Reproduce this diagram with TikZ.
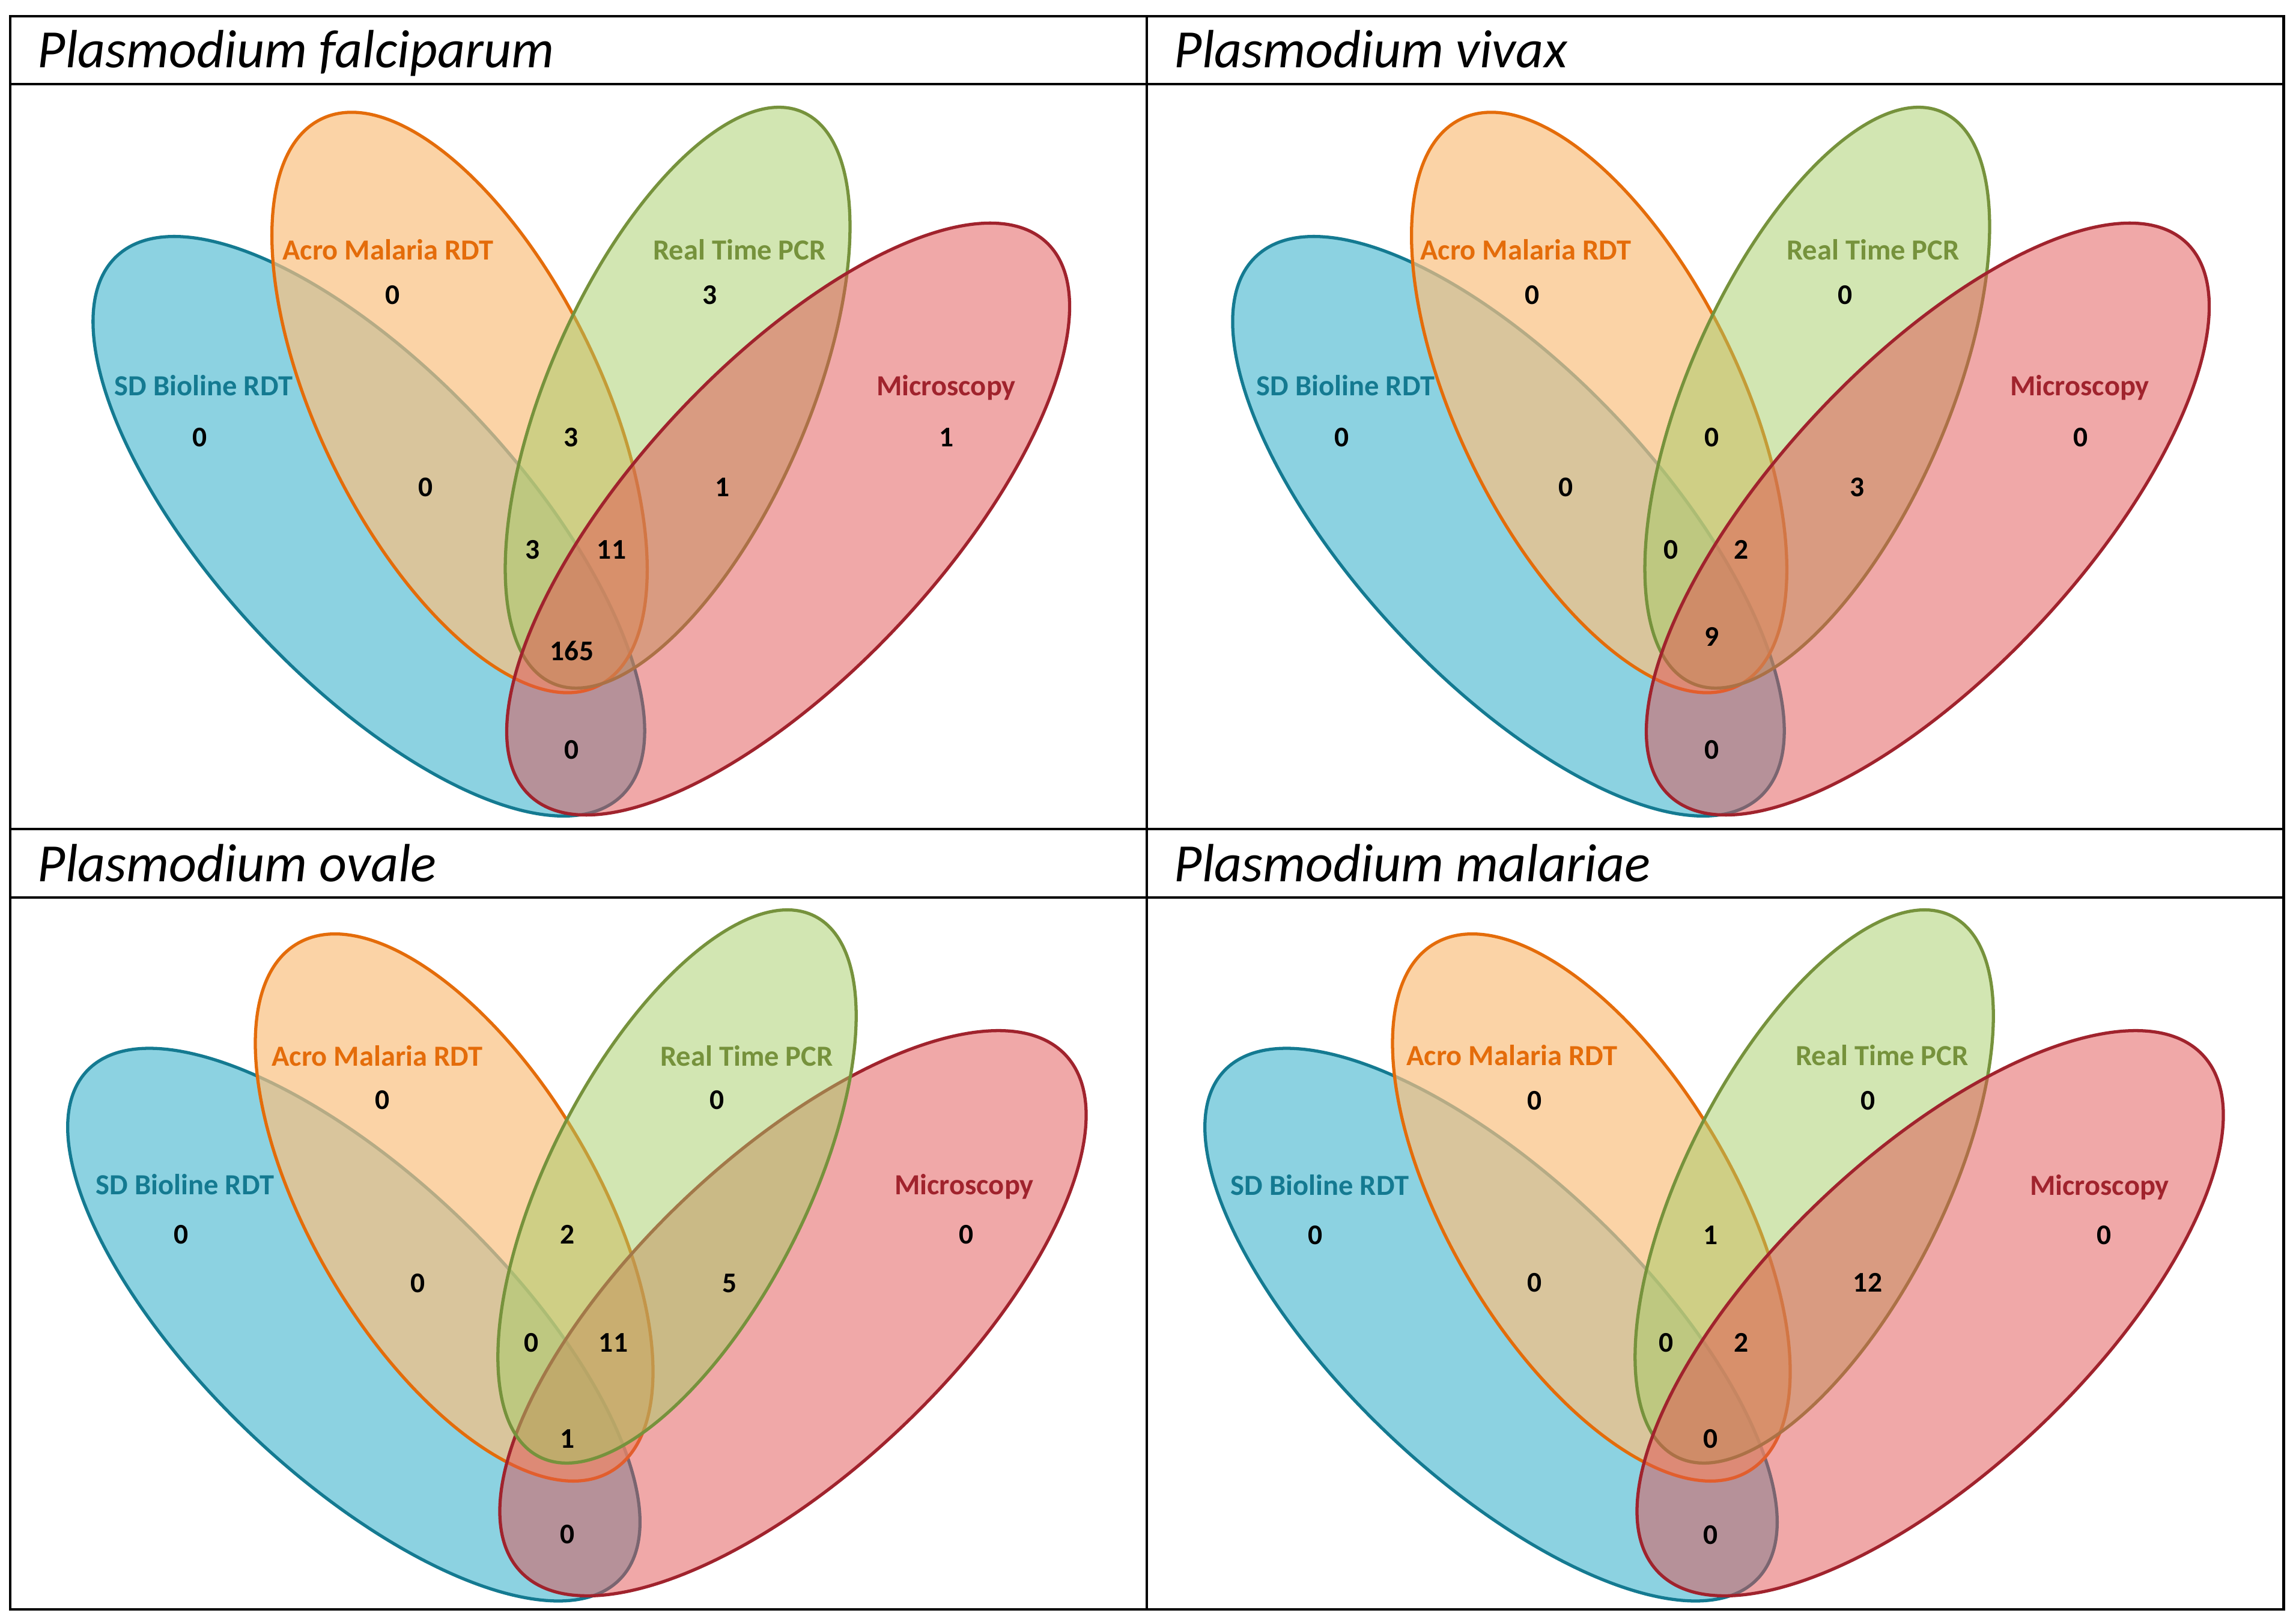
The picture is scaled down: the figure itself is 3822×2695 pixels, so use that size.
\documentclass[tikz,border=0pt]{standalone}
\usepackage{fontspec}
\setmainfont{Carlito}
\usepackage{tikz}
\usetikzlibrary{positioning}
\definecolor{sdline}{RGB}{20,122,145}
\definecolor{sdfill}{RGB}{25,165,195}
\definecolor{acroline}{RGB}{228,108,10}
\definecolor{acrofill}{RGB}{250,192,128}
\definecolor{pcrline}{RGB}{118,146,60}
\definecolor{pcrfill}{RGB}{165,205,101}
\definecolor{microline}{RGB}{160,35,45}
\definecolor{microfill}{RGB}{225,81,81}

\begin{document}
\begin{tikzpicture}[
  x=0.01cm, y=-0.01cm,
  frame/.style={draw=black, line width=1.4pt},
  header/.style={font=\fontsize{25.5}{30}\selectfont\itshape, inner sep=0pt, anchor=base west},
  setname/.style={font=\fontsize{13.8}{16}\selectfont\bfseries, inner sep=0pt, text depth=0pt},
  num/.style={font=\fontsize{13.5}{16}\selectfont\bfseries, inner sep=0pt},
  venn/.style={line width=1.5pt, fill opacity=0.5},
  sdset/.style={venn, draw=sdline, fill=sdfill},
  acroset/.style={venn, draw=acroline, fill=acrofill, fill opacity=0.7},
  pcrset/.style={venn, draw=pcrline, fill=pcrfill},
  microset/.style={venn, draw=microline, fill=microfill}
]
\useasboundingbox (0,0) rectangle (3822,2695);

% Plasmodium falciparum
\path[sdset, rotate around={-47:(614,876)}] (614,876) ellipse [x radius=615, y radius=255];
\path[acroset, rotate around={-64:(765,670)}] (765,670) ellipse [x radius=525, y radius=235];
\path[pcrset, rotate around={66.4:(1128,662)}] (1128,662) ellipse [x radius=519, y radius=216];
\path[microset, rotate around={47:(1312,864)}] (1312,864) ellipse [x radius=630, y radius=255];

\node[setname, text=acroline] (fa-acro) at (646,415) {Acro Malaria RDT};
\node[setname, text=pcrline] (fa-pcr) at (1231,415) {Real Time PCR};
\node[setname, text=sdline] (fa-sd) at (339,641) {SD Bioline RDT};
\node[setname, text=microline] (fa-mic) at (1575,641) {Microscopy};

\node[num] (fa-n-acro) at (654,491) {0};
\node[num] (fa-n-pcr) at (1182,491) {3};
\node[num] (fa-n-sd) at (333,728) {0};
\node[num] (fa-n-mic) at (1576,728) {1};
\node[num] (fa-n-ap) at (951,728) {3};
\node[num] (fa-n-sa) at (709,811) {0};
\node[num] (fa-n-pm) at (1203,811) {1};
\node[num] (fa-n-sap) at (887,915) {3};
\node[num] (fa-n-apm) at (1018,915) {11};
\node[num] (fa-n-all) at (952,1083) {165};
\node[num] (fa-n-sm) at (952,1248) {0};

% Plasmodium vivax
\path[sdset, rotate around={-47:(2511,876)}] (2511,876) ellipse [x radius=615, y radius=255];
\path[acroset, rotate around={-64:(2662,670)}] (2662,670) ellipse [x radius=525, y radius=235];
\path[pcrset, rotate around={66.4:(3025,662)}] (3025,662) ellipse [x radius=519, y radius=216];
\path[microset, rotate around={47:(3209,864)}] (3209,864) ellipse [x radius=630, y radius=255];

\node[setname, text=acroline] (vi-acro) at (2540,415) {Acro Malaria RDT};
\node[setname, text=pcrline] (vi-pcr) at (3118,415) {Real Time PCR};
\node[setname, text=sdline] (vi-sd) at (2240,641) {SD Bioline RDT};
\node[setname, text=microline] (vi-mic) at (3462,641) {Microscopy};

\node[num] (vi-n-acro) at (2550,491) {0};
\node[num] (vi-n-pcr) at (3071,491) {0};
\node[num] (vi-n-sd) at (2233,728) {0};
\node[num] (vi-n-mic) at (3463,728) {0};
\node[num] (vi-n-ap) at (2849,728) {0};
\node[num] (vi-n-sa) at (2606,811) {0};
\node[num] (vi-n-pm) at (3091,811) {3};
\node[num] (vi-n-sap) at (2781,915) {0};
\node[num] (vi-n-apm) at (2898,915) {2};
\node[num] (vi-n-all) at (2849,1060) {9};
\node[num] (vi-n-sm) at (2849,1248) {0};

% Plasmodium ovale
\path[sdset, rotate around={-43.6:(589,2205)}] (589,2205) ellipse [x radius=613, y radius=250];
\path[acroset, rotate around={-59.2:(756,2010)}] (756,2010) ellipse [x radius=511, y radius=236];
\path[microset, rotate around={43.5:(1320,2186)}] (1320,2186) ellipse [x radius=625, y radius=262];
\path[pcrset, rotate around={63:(1127,1975)}] (1127,1975) ellipse [x radius=505, y radius=214];

\node[setname, text=acroline] (ov-acro) at (628,1757) {Acro Malaria RDT};
\node[setname, text=pcrline] (ov-pcr) at (1243,1757) {Real Time PCR};
\node[setname, text=sdline] (ov-sd) at (308,1971) {SD Bioline RDT};
\node[setname, text=microline] (ov-mic) at (1605,1971) {Microscopy};

\node[num] (ov-n-acro) at (637,1831) {0};
\node[num] (ov-n-pcr) at (1194,1831) {0};
\node[num] (ov-n-sd) at (302,2055) {0};
\node[num] (ov-n-mic) at (1609,2055) {0};
\node[num] (ov-n-ap) at (945,2055) {2};
\node[num] (ov-n-sa) at (696,2136) {0};
\node[num] (ov-n-pm) at (1215,2136) {5};
\node[num] (ov-n-sap) at (885,2235) {0};
\node[num] (ov-n-apm) at (1021,2235) {11};
\node[num] (ov-n-all) at (945,2395) {1};
\node[num] (ov-n-sm) at (945,2554) {0};

% Plasmodium malariae
\path[sdset, rotate around={-43.6:(2482,2205)}] (2482,2205) ellipse [x radius=613, y radius=250];
\path[acroset, rotate around={-59.2:(2649,2010)}] (2649,2010) ellipse [x radius=511, y radius=236];
\path[pcrset, rotate around={63:(3020,1975)}] (3020,1975) ellipse [x radius=505, y radius=214];
\path[microset, rotate around={43.5:(3213,2186)}] (3213,2186) ellipse [x radius=625, y radius=262];

\node[setname, text=acroline] (ma-acro) at (2517,1756) {Acro Malaria RDT};
\node[setname, text=pcrline] (ma-pcr) at (3133,1756) {Real Time PCR};
\node[setname, text=sdline] (ma-sd) at (2197,1972) {SD Bioline RDT};
\node[setname, text=microline] (ma-mic) at (3495,1972) {Microscopy};

\node[num] (ma-n-acro) at (2554,1832) {0};
\node[num] (ma-n-pcr) at (3109,1832) {0};
\node[num] (ma-n-sd) at (2189,2056) {0};
\node[num] (ma-n-mic) at (3502,2056) {0};
\node[num] (ma-n-ap) at (2847,2056) {1};
\node[num] (ma-n-sa) at (2554,2135) {0};
\node[num] (ma-n-pm) at (3109,2135) {12};
\node[num] (ma-n-sap) at (2773,2235) {0};
\node[num] (ma-n-apm) at (2898,2235) {2};
\node[num] (ma-n-all) at (2847,2395) {0};
\node[num] (ma-n-sm) at (2847,2555) {0};

% table frame
\draw[frame] (17,27) rectangle (3801,2679);
\draw[frame] (17,140) -- (3801,140);
\draw[frame] (17,1380) -- (3801,1380);
\draw[frame] (17,1494) -- (3801,1494);
\draw[frame] (1909,27) -- (1909,2679);

\node[header] (hd-fal) at (62,113) {Plasmodium falciparum};
\node[header] (hd-viv) at (1954,113) {Plasmodium vivax};
\node[header] (hd-ova) at (62,1467) {Plasmodium ovale};
\node[header] (hd-mal) at (1954,1467) {Plasmodium malariae};
\end{tikzpicture}
\end{document}
